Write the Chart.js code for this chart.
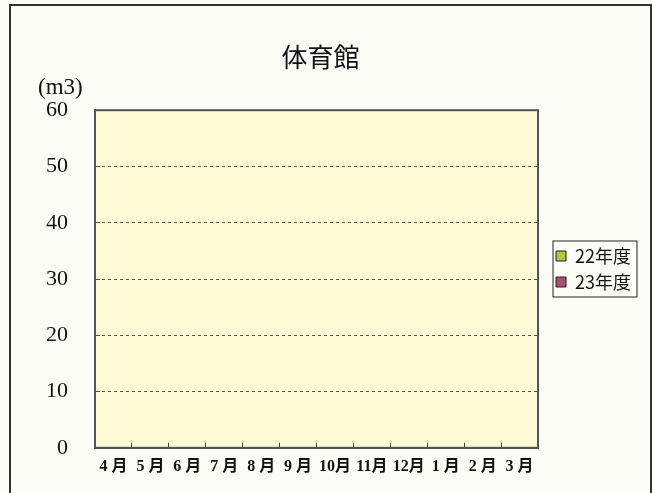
<!DOCTYPE html>
<html>
<head>
<meta charset="utf-8">
<script src="https://cdn.jsdelivr.net/npm/chart.js@4"></script>
<style>
  html, body { margin: 0; padding: 0; background: #fdfdf8; }
  #wrap { width: 653px; height: 493px; }
</style>
</head>
<body>
<div id="wrap"><canvas id="chart" width="653" height="493"></canvas></div>
<script>
// 月のラベルと各年度の値（グラフは空なので全て0）
const months = ['4 月', '5 月', '6 月', '7 月', '8 月', '9 月', '10月', '11月', '12月', '1 月', '2 月', '3 月'];
const values22 = [0, 0, 0, 0, 0, 0, 0, 0, 0, 0, 0, 0];
const values23 = [0, 0, 0, 0, 0, 0, 0, 0, 0, 0, 0, 0];
const yMin = 0;
const yMax = 60;
const yStep = 10;

const serif = '"Liberation Serif", "Noto Sans CJK JP", serif';

// 背景・枠線・単位ラベル
const decor = {
  id: 'decor',
  afterLayout(chart) {
    // 凡例を参照図の位置へ寄せる
    const lg = chart.legend;
    const dx = (chart.chartArea.right + 10) - lg.left;
    lg.left += dx;
    lg.right += dx;
    lg.top -= 10;
    lg.bottom -= 10;
  },
  beforeDraw(chart) {
    const { ctx, chartArea: a } = chart;
    ctx.save();
    ctx.fillStyle = '#fefbd6';
    ctx.fillRect(a.left, a.top, a.right - a.left, a.bottom - a.top);
    ctx.restore();
  },
  afterDraw(chart) {
    const { ctx, chartArea: a } = chart;
    ctx.save();
    // 外枠
    ctx.strokeStyle = '#333';
    ctx.lineWidth = 2;
    ctx.strokeRect(10, 5, 641, 500);
    // プロット枠
    ctx.strokeStyle = '#555';
    ctx.lineWidth = 2;
    ctx.strokeRect(a.left, a.top, a.right - a.left, a.bottom - a.top);
    // 凡例の枠
    const boxes = chart.legend.legendHitBoxes;
    if (boxes && boxes.length) {
      const l = Math.min(...boxes.map(b => b.left)) - 3;
      const t = Math.min(...boxes.map(b => b.top)) - 6;
      const r = Math.max(...boxes.map(b => b.left + b.width)) + 6;
      const bt = Math.max(...boxes.map(b => b.top + b.height)) + 6;
      ctx.strokeStyle = '#222';
      ctx.lineWidth = 1;
      ctx.strokeRect(l, t, r - l, bt - t);
    }
    // 単位
    ctx.fillStyle = '#111';
    ctx.font = '23px ' + serif;
    ctx.textBaseline = 'middle';
    ctx.fillText('(m3)', a.left - 57, a.top - 22);
    ctx.restore();
  }
};

new Chart(document.getElementById('chart'), {
  type: 'bar',
  data: {
    labels: months,
    datasets: [
      { label: '22年度', data: values22, backgroundColor: '#a9c93a', borderColor: '#222', borderWidth: 1 },
      { label: '23年度', data: values23, backgroundColor: '#a5526f', borderColor: '#222', borderWidth: 1 }
    ]
  },
  options: {
    responsive: false,
    animation: false,
    layout: { padding: { left: 10, right: 22, top: 42, bottom: 0 } },
    plugins: {
      title: {
        display: true,
        text: '体育館',
        color: '#111',
        font: { family: '"Noto Sans CJK JP", sans-serif', size: 26, weight: 'normal' },
        padding: { top: 0, bottom: 37 }
      },
      legend: {
        position: 'right',
        fullSize: false,
        labels: {
          color: '#111',
          font: { family: '"Noto Sans CJK JP", sans-serif', size: 18 },
          boxWidth: 10,
          boxHeight: 10,
          padding: 8
        }
      },
      tooltip: { enabled: false }
    },
    scales: {
      x: {
        afterFit(scale) { scale.height = 43; },
        grid: { drawOnChartArea: false, color: '#444', tickLength: -5, offset: true },
        border: { color: '#444', width: 2 },
        ticks: {
          color: '#111',
          padding: 14,
          font: { family: serif, size: 16, weight: 'bold' },
          maxRotation: 0
        }
      },
      y: {
        min: yMin,
        max: yMax,
        afterFit(scale) { scale.width = 85; },
        ticks: {
          stepSize: yStep,
          color: '#111',
          padding: 32,
          font: { family: serif, size: 22 }
        },
        grid: { color: '#555', lineWidth: 1, tickLength: -5 },
        border: { color: '#444', width: 2, dash: [3, 3] }
      }
    }
  },
  plugins: [decor]
});
</script>
</body>
</html>
